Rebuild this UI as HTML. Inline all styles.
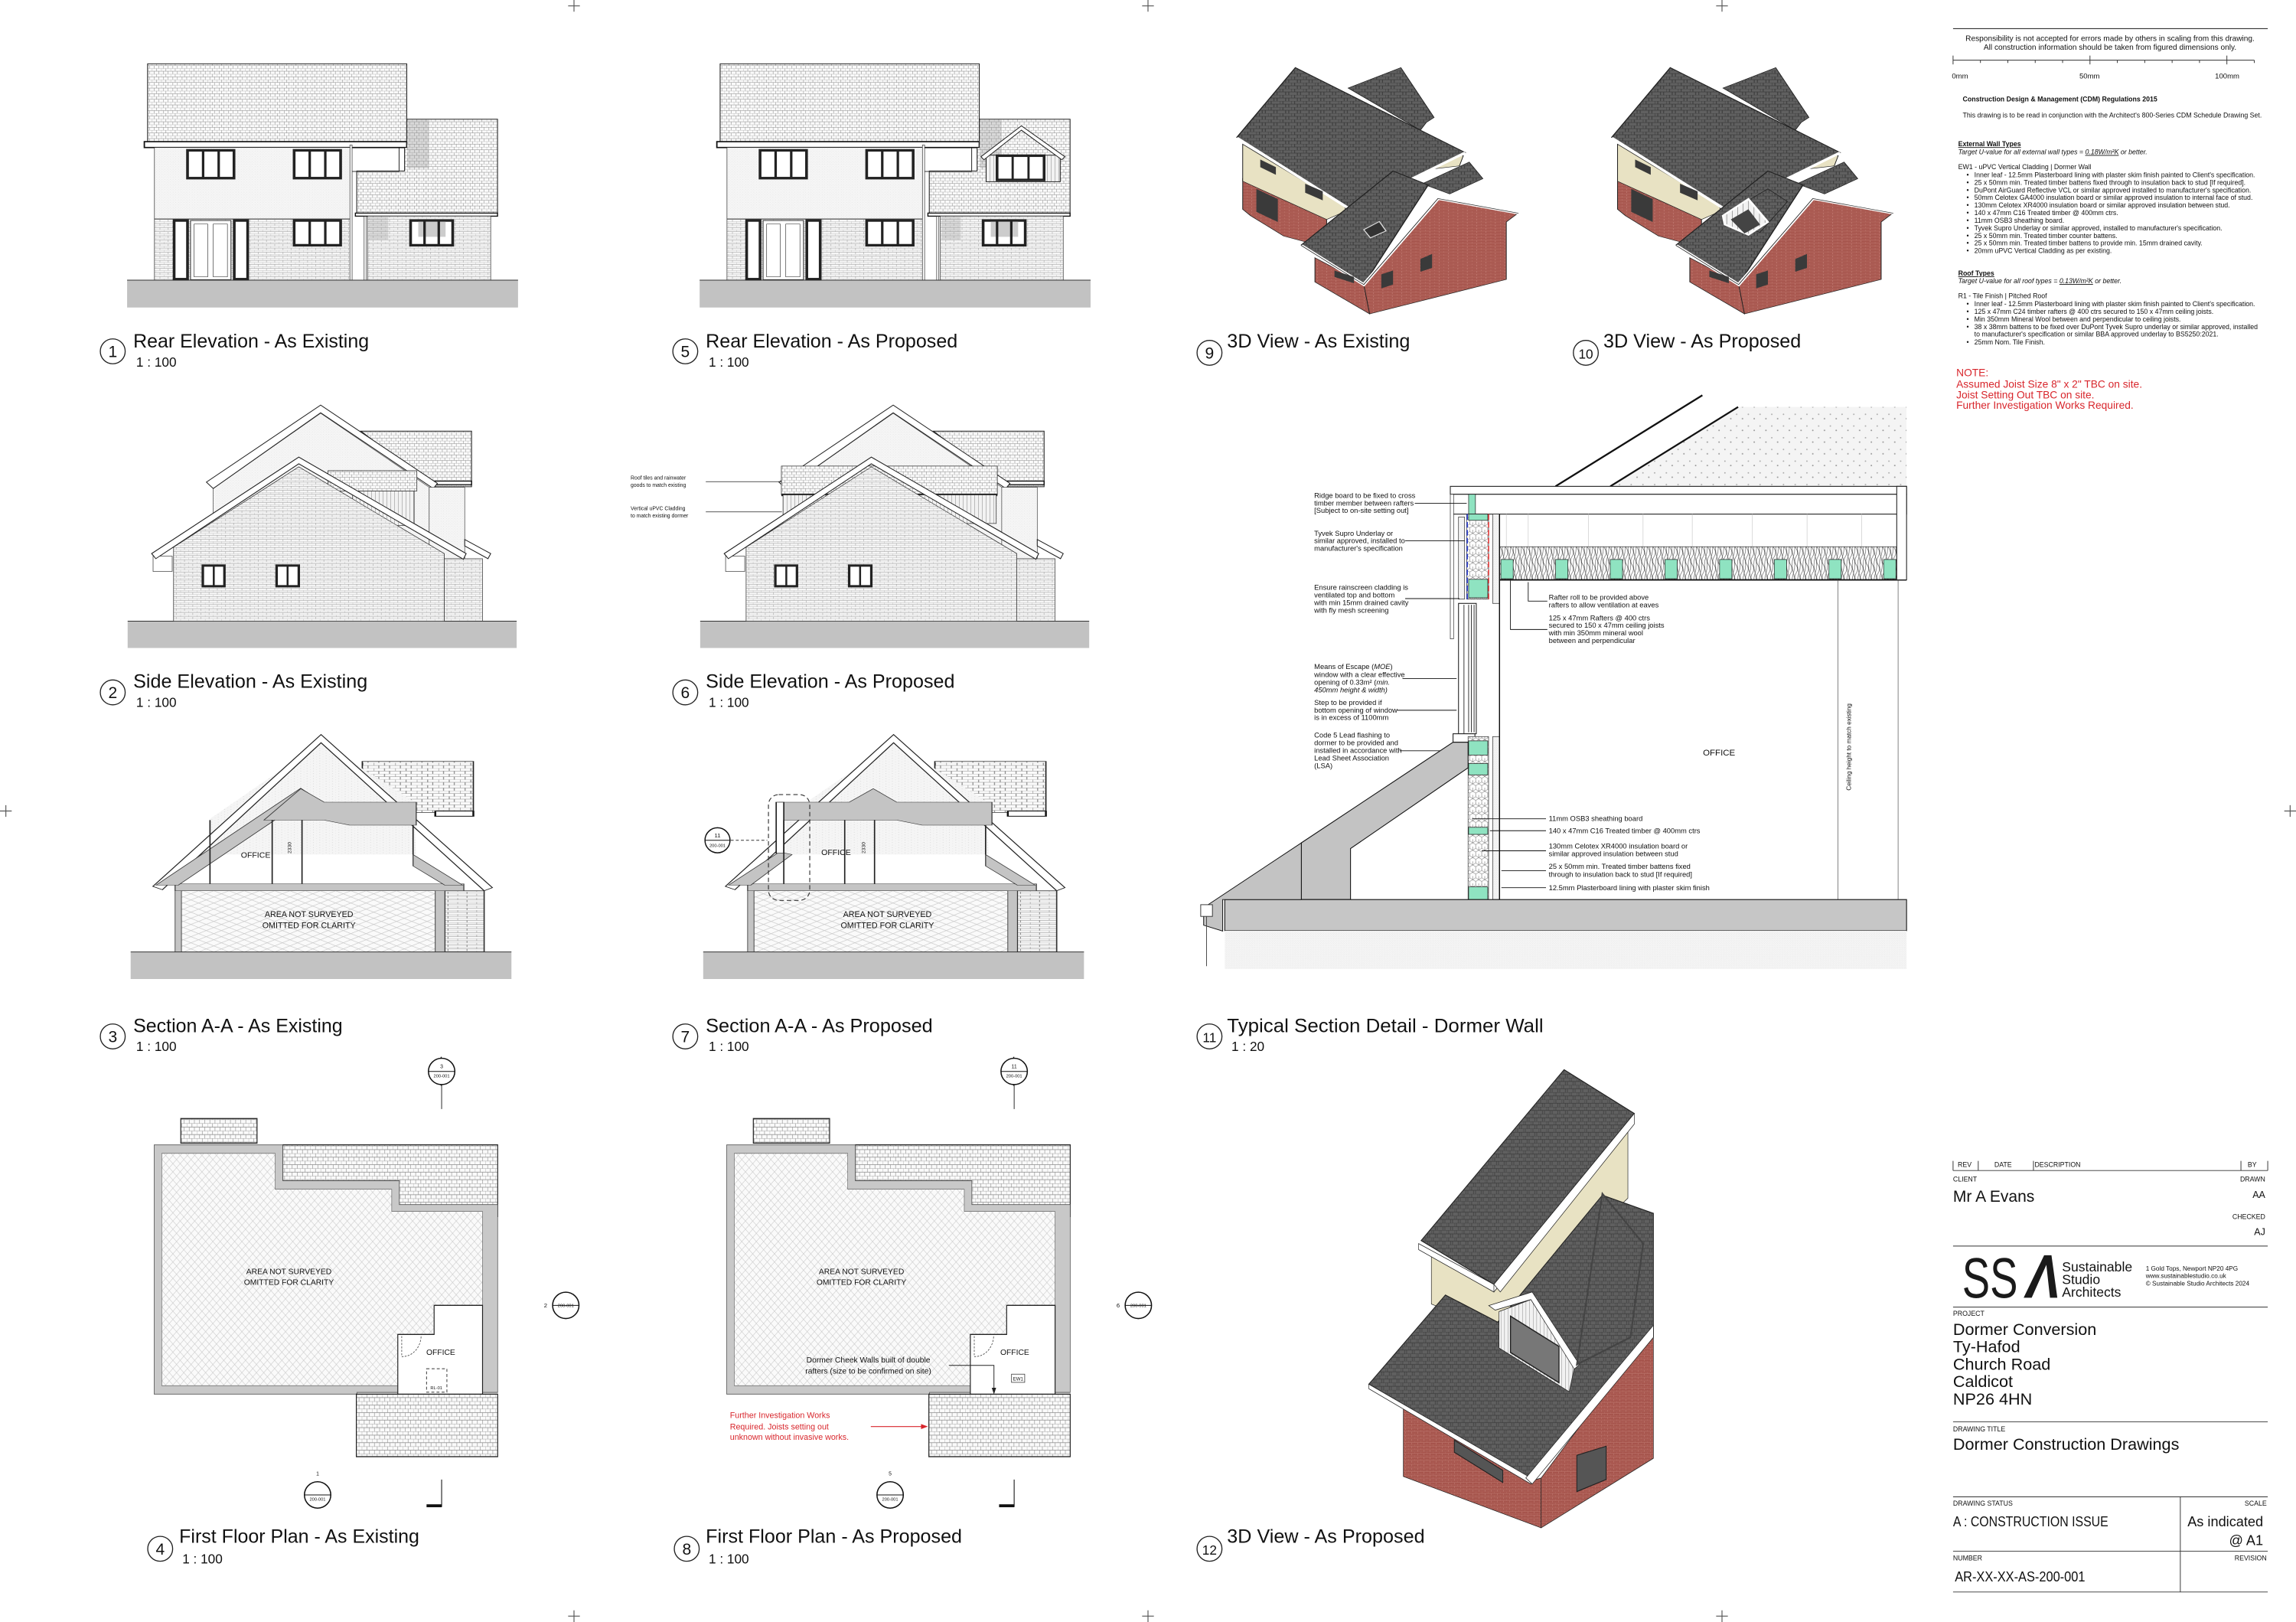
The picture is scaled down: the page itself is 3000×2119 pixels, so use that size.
<!DOCTYPE html>
<html><head><meta charset="utf-8"><style>
html,body{margin:0;padding:0;background:#fff}
svg{display:block}
text{font-family:"Liberation Sans",Arial,sans-serif;fill:#111}
.t{font-size:13px}
.s{font-size:9px}
.n{font-size:4.6px}
.lbl{font-size:4.6px;fill:#333}
</style></head><body>
<svg xmlns="http://www.w3.org/2000/svg" width="3000" height="2119" viewBox="0 0 1568 1108" preserveAspectRatio="none">
<defs>
<pattern id="tile" width="34" height="22" patternUnits="userSpaceOnUse"><rect width="34" height="22" fill="#fafafa"/><path d="M0 0H34M0 11H34M0 0V11M17 0V11M8 11V22M25 11V22" stroke="#8a8a8a" stroke-width="1.5" fill="none"/></pattern>
<pattern id="brick" width="30" height="16" patternUnits="userSpaceOnUse"><rect width="30" height="16" fill="#f6f6f6"/><path d="M0 0H30M0 8H30M0 0V8M15 8V16" stroke="#8a8a8a" stroke-width="1.3" fill="none"/></pattern>
<pattern id="hatch" width="24" height="24" patternUnits="userSpaceOnUse"><rect width="24" height="24" fill="#fafafa"/><path d="M0 0L24 24M24 0L0 24" stroke="#c4c4c4" stroke-width="1.3"/></pattern>
<pattern id="render" width="10" height="10" patternUnits="userSpaceOnUse"><rect width="10" height="10" fill="#f5f5f5"/><circle cx="3" cy="3" r="0.8" fill="#c4c4c4"/><circle cx="8" cy="7" r="0.7" fill="#cccccc"/></pattern>
<pattern id="roof3d" width="30" height="24" patternUnits="userSpaceOnUse"><rect width="30" height="24" fill="#606060"/><path d="M0 0H30M0 12H30M0 0V12M15 12V24M8 0V12M23 12V24" stroke="#3c3c3c" stroke-width="2.2" fill="none"/></pattern>
<pattern id="brick3d" width="24" height="12" patternUnits="userSpaceOnUse"><rect width="24" height="12" fill="#a5534b"/><path d="M0 0H24M0 6H24M0 0V6M12 6V12" stroke="#c8847b" stroke-width="1.2" fill="none"/></pattern>
<pattern id="clad" width="14" height="10" patternUnits="userSpaceOnUse"><rect width="14" height="10" fill="#f2f2f2"/><path d="M0 0V10" stroke="#555" stroke-width="2"/></pattern>
<pattern id="insul" width="22" height="26" patternUnits="userSpaceOnUse"><rect width="22" height="26" fill="#fff"/><path d="M0 6L11 0L22 6M0 6V19L11 26L22 19V6M11 13V26" stroke="#555" stroke-width="1.3" fill="none"/></pattern>
<pattern id="wool" width="20" height="58" patternUnits="userSpaceOnUse"><rect width="20" height="58" fill="#fff"/><path d="M0 0Q10 29 0 58M20 0Q10 29 20 58M10 0Q0 15 10 29Q20 44 10 58" stroke="#444" stroke-width="1.6" fill="none"/></pattern>
<pattern id="stip" width="8" height="8" patternUnits="userSpaceOnUse"><rect width="8" height="8" fill="#f4f4f4"/><circle cx="2" cy="3" r="0.5" fill="#aaa"/><circle cx="6" cy="6" r="0.5" fill="#999"/></pattern>

<g id="rear">
<rect x="120" y="70" width="948" height="305" fill="url(#tile)" stroke="#222" stroke-width="3"/>
<rect x="108" y="375" width="960" height="23" fill="#fff" stroke="#111" stroke-width="5"/>
<polygon points="1068,287 1400,287 1400,655 885,655 885,490 1060,490 1060,398 1068,398" fill="url(#tile)" stroke="#222" stroke-width="3"/>
<rect x="1070" y="290" width="80" height="190" fill="#999" opacity="0.35"/>
<rect x="145" y="398" width="720" height="280" fill="url(#render)" stroke="#333" stroke-width="2"/>
<rect x="145" y="678" width="720" height="240" fill="url(#brick)" stroke="#333" stroke-width="2"/>
<rect x="880" y="655" width="520" height="12" fill="#fff" stroke="#111" stroke-width="4"/>
<rect x="925" y="667" width="450" height="251" fill="url(#brick)" stroke="#333" stroke-width="2"/>
<rect x="930" y="670" width="70" height="90" fill="#999" opacity="0.3"/>
<rect x="860" y="388" width="8" height="530" fill="#fff" stroke="#333" stroke-width="2"/>
<rect x="912" y="668" width="8" height="250" fill="#fff" stroke="#333" stroke-width="2"/>
<path d="M868 492H1040V400" fill="none" stroke="#333" stroke-width="3"/>
<rect x="45" y="918" width="1430" height="107" fill="#c2c2c2"/>
<line x1="45" y1="918" x2="1475" y2="918" stroke="#333" stroke-width="3"/>
<g fill="#fff" stroke="#222" stroke-width="10">
<rect x="266" y="409" width="170" height="109"/><rect x="656" y="409" width="170" height="109"/>
<rect x="656" y="684" width="170" height="97"/><rect x="1082" y="684" width="154" height="97"/>
<rect x="217" y="684" width="49" height="230"/><rect x="437" y="684" width="49" height="230"/>
</g>
<rect x="1110" y="688" width="100" height="60" fill="#aaa" opacity="0.6"/>
<g stroke="#222" stroke-width="9"><path d="M323 409V518M380 409V518M713 409V518M770 409V518M713 684V781M770 684V781M1133 684V781M1185 684V781"/></g>
<rect x="277" y="684" width="148" height="232" fill="#fff" stroke="#333" stroke-width="3"/>
<path d="M290 698H340V905H290ZM360 698H412V905H360Z" fill="none" stroke="#444" stroke-width="2"/>
</g>

<g id="side">
<polygon points="360,385 753,90 1150,380 1150,650 360,650" fill="url(#render)" stroke="#444" stroke-width="2"/>
<polygon points="900,160 1305,160 1305,378 1165,378" fill="url(#tile)" stroke="#222" stroke-width="3"/>
<rect x="1170" y="356" width="135" height="14" fill="#fff" stroke="#111" stroke-width="4"/>
<polygon points="335,360 753,58 1180,365 1165,385 753,88 360,385" fill="#fff" stroke="#222" stroke-width="3"/>
<rect x="1150" y="380" width="130" height="280" fill="url(#render)" stroke="#444" stroke-width="2"/>
<polygon points="1280,585 1375,640 1365,660 1280,610" fill="#fff" stroke="#222" stroke-width="3"/>
<polygon points="135,640 673,262 1285,640 1275,662 673,288 150,660" fill="#fff" stroke="#222" stroke-width="3"/>
<polygon points="215,905 215,615 673,300 1205,640 1205,905" fill="url(#brick)" stroke="#333" stroke-width="2"/>
<rect x="1205" y="660" width="140" height="245" fill="url(#brick)" stroke="#333" stroke-width="2"/>
<rect x="140" y="650" width="70" height="60" fill="#fff" stroke="#333" stroke-width="2"/>
<g fill="#fff" stroke="#222" stroke-width="9"><rect x="322" y="687" width="79" height="81"/><rect x="592" y="687" width="81" height="81"/></g>
<path d="M362 687V768M632 687V768" stroke="#222" stroke-width="7"/>
<rect x="47" y="905" width="1423" height="105" fill="#c2c2c2"/>
<line x1="47" y1="905" x2="1470" y2="905" stroke="#333" stroke-width="3"/>
</g>

<g id="sect">
<rect x="390" y="105" width="175" height="200" fill="url(#tile)" stroke="#222" stroke-width="2"/>
<rect x="505" y="300" width="60" height="20" fill="#fff" stroke="#111" stroke-width="3"/>
<polygon points="150,330 325,30 470,260 475,470 150,470" fill="url(#render)"/>
<polygon points="60,595 325,0 595,600 582,612 325,32 75,608" fill="#fff" stroke="#222" stroke-width="2"/>
<rect x="520" y="612" width="62" height="240" fill="url(#brick)" stroke="#333" stroke-width="2"/>
<rect x="105" y="612" width="400" height="240" fill="url(#hatch)" stroke="#444" stroke-width="1"/>
<rect x="95" y="585" width="455" height="27" fill="#c4c4c4" stroke="#333" stroke-width="1.5"/>
<rect x="95" y="612" width="10" height="240" fill="#c4c4c4" stroke="#333" stroke-width="1"/>
<rect x="505" y="612" width="15" height="240" fill="#c4c4c4" stroke="#333" stroke-width="1"/>
<polygon points="470,470 548,590 520,590 470,515" fill="#c4c4c4" stroke="#333" stroke-width="1.5"/>
<rect x="25" y="852" width="600" height="106" fill="#c2c2c2"/>
<line x1="25" y1="852" x2="625" y2="852" stroke="#333" stroke-width="3"/>
</g>
<g id="sectEx">
<polygon points="65,590 293,210 310,238 100,590" fill="#c4c4c4" stroke="#333" stroke-width="1.5"/>
<polygon points="235,335 293,212 330,265 475,265 475,355 370,355 330,335" fill="#c4c4c4" stroke="#333" stroke-width="1.5"/>
<path d="M150 335V585M248 335V585M295 335V585M470 355V470" stroke="#222" stroke-width="2"/>
</g>
<g id="sectPr">
<polygon points="65,590 145,460 165,470 100,590" fill="#c4c4c4" stroke="#333" stroke-width="1.5"/>
<polygon points="293,212 330,265 480,265 480,355 370,355 330,335 145,335 145,265 255,265" fill="#c4c4c4" stroke="#333" stroke-width="1.5"/>
<rect x="140" y="265" width="12" height="200" fill="#fff" stroke="#222" stroke-width="2"/>
<path d="M152 335V585M248 335V585M295 335V585M470 355V470" stroke="#222" stroke-width="2"/>
</g>

<g id="plan">
<rect x="218" y="228" width="252" height="72" fill="url(#tile)" stroke="#222" stroke-width="3"/>
<polygon points="555,305 1265,305 1265,515 915,515 915,435 555,435" fill="url(#tile)" stroke="#222" stroke-width="3"/>
<polygon points="130,305 555,305 555,410 940,410 940,480 1265,480 1265,1030 800,1030 800,1035 130,1035" fill="#c8c8c8" stroke="#555" stroke-width="2"/>
<polygon points="155,330 530,330 530,435 915,435 915,500 1215,500 1215,1010 155,1010" fill="url(#hatch)" stroke="#555" stroke-width="1.5"/>
<polygon points="935,860 1055,860 1055,775 1215,775 1215,1040 935,1040" fill="#fff" stroke="#222" stroke-width="3"/>
<rect x="798" y="1035" width="467" height="183" fill="url(#tile)" stroke="#222" stroke-width="3"/>
<path d="M948 865V925M948 925A62 62 0 0 0 1012 862" fill="none" stroke="#444" stroke-width="2" stroke-dasharray="6 4"/>
</g>

<g id="h3d">
<polygon points="270,830 400,935 410,1050 270,925" fill="url(#brick3d)" stroke="#222" stroke-width="2"/>
<polygon points="85,520 300,670 300,790 190,745 105,665 85,640" fill="url(#brick3d)" stroke="#222" stroke-width="2"/>
<polygon points="85,385 360,640 300,680 85,530" fill="#e8e2c3" stroke="#222" stroke-width="2"/>
<polygon points="345,625 470,365 650,430 640,470 470,500 360,690" fill="#e8e2c3" stroke="#222" stroke-width="2"/>
<polygon points="355,165 490,85 575,280 555,300 540,330" fill="url(#roof3d)" stroke="#222" stroke-width="2"/>
<polygon points="220,85 70,358 360,640 655,418" fill="url(#roof3d)" stroke="#222" stroke-width="3"/>
<path d="M70 360L360 640M360 640L655 418" stroke="#fff" stroke-width="9"/>
<polygon points="395,935 582,600 790,655 760,690 760,915 410,1050" fill="url(#brick3d)" stroke="#222" stroke-width="2"/>
<polygon points="545,540 665,455 700,520 615,580" fill="url(#roof3d)" stroke="#222" stroke-width="2"/>
<polygon points="235,780 470,490 560,545 395,935" fill="url(#roof3d)" stroke="#222" stroke-width="3"/>
<path d="M235 782L395 935L585 598L790 655" fill="none" stroke="#fff" stroke-width="10"/>
<path d="M235 782L395 935L585 598L790 655" fill="none" stroke="#222" stroke-width="2"/>
<g fill="#3a3a3a"><polygon points="440,895 470,880 470,935 440,950"/><polygon points="540,835 570,815 570,870 540,885"/><polygon points="320,880 370,905 370,930 320,905"/><polygon points="120,560 175,600 175,690 120,650"/><polygon points="130,445 170,475 170,505 130,475"/><polygon points="245,540 290,570 290,605 245,575"/></g>
</g>

<g id="mark">
<circle cx="0" cy="0" r="9" fill="#fff" stroke="#111" stroke-width="0.8"/>
<line x1="-9" y1="0" x2="9" y2="0" stroke="#111" stroke-width="0.5"/>
</g>
</defs>

<g stroke="#555" stroke-width="0.6">
<path d="M392 0V8M784 0V8M1176 0V8M392 1100V1108M784 1100V1108M1176 1100V1108M0 554H8M1560 554H1568M388 4H396M780 4H788M1172 4H1180M388 1104H396M780 1104H788M1172 1104H1180M4 550V558M1564 550V558"/>
</g>

<use href="#rear" transform="translate(78.4,31.4) scale(0.1867,0.1743)"/>
<g transform="translate(469.4,31.4) scale(0.1867,0.1743)">
<use href="#rear"/>
<rect x="1133" y="430" width="110" height="70" fill="url(#tile)"/>
<rect x="1093" y="428" width="271" height="104" fill="url(#clad)" stroke="#222" stroke-width="3"/>
<polygon points="1074,434 1222,313 1381,434 1370,446 1222,330 1085,446" fill="#fff" stroke="#222" stroke-width="3"/>
<rect x="1133" y="430" width="172" height="95" fill="#fff" stroke="#222" stroke-width="10"/>
<path d="M1190 430V525M1248 430V525" stroke="#222" stroke-width="8"/>
</g>

<use href="#side" transform="translate(78.4,266.6) scale(0.1867,0.1743)"/>
<g transform="translate(78.4,266.6) scale(0.1867,0.1743)">
<rect x="780" y="315" width="325" height="80" fill="url(#tile)" stroke="#222" stroke-width="2"/>
<rect x="870" y="395" width="225" height="135" fill="url(#clad)" stroke="#222" stroke-width="2"/>
<polygon points="215,615 673,300 1205,640 1205,905 215,905" fill="url(#brick)" stroke="#333" stroke-width="2"/>
<polygon points="135,640 673,262 1285,640 1275,662 673,288 150,660" fill="#fff" stroke="#222" stroke-width="3"/>
<g fill="#fff" stroke="#222" stroke-width="9"><rect x="322" y="687" width="79" height="81"/><rect x="592" y="687" width="81" height="81"/></g>
<path d="M362 687V768M632 687V768" stroke="#222" stroke-width="7"/>
</g>
<use href="#side" transform="translate(469.4,266.6) scale(0.1867,0.1743)"/>
<g transform="translate(469.4,266.6) scale(0.1867,0.1743)">
<rect x="344" y="297" width="790" height="113" fill="url(#tile)" stroke="#222" stroke-width="2"/>
<rect x="344" y="405" width="790" height="10" fill="#222"/>
<rect x="350" y="410" width="780" height="112" fill="url(#clad)" stroke="#222" stroke-width="2"/>
<polygon points="215,615 673,300 1205,640 1205,905 215,905" fill="url(#brick)" stroke="#333" stroke-width="2"/>
<polygon points="135,640 673,262 1285,640 1275,662 673,288 150,660" fill="#fff" stroke="#222" stroke-width="3"/>
<g fill="#fff" stroke="#222" stroke-width="9"><rect x="322" y="687" width="79" height="81"/><rect x="592" y="687" width="81" height="81"/></g>
<path d="M362 687V768M632 687V768" stroke="#222" stroke-width="7"/>
</g>
<text x="430.7" y="327.6" style="font-size:3.6px">Roof tiles and rainwater</text>
<text x="430.7" y="332.6" style="font-size:3.6px">goods to match existing</text>
<text x="430.7" y="348.4" style="font-size:3.6px">Vertical uPVC Cladding</text>
<text x="430.7" y="353.4" style="font-size:3.6px">to match existing dormer</text>
<path d="M482 329H534M482 349.7H534" stroke="#222" stroke-width="0.4"/>

<use href="#sect" transform="translate(78.4,501.8) scale(0.4334,0.1743)"/>
<use href="#sectEx" transform="translate(78.4,501.8) scale(0.4334,0.1743)"/>
<use href="#sect" transform="translate(469.4,501.8) scale(0.4334,0.1743)"/>
<use href="#sectPr" transform="translate(469.4,501.8) scale(0.4334,0.1743)"/>
<text x="174.6" y="586" style="font-size:5.5px" text-anchor="middle">OFFICE</text>
<text x="571" y="584" style="font-size:5.5px" text-anchor="middle">OFFICE</text>
<text transform="translate(199,583) rotate(-90)" style="font-size:3.5px">2330</text>
<text transform="translate(591,583) rotate(-90)" style="font-size:3.5px">2330</text>
<text x="211" y="626.5" style="font-size:5.6px" text-anchor="middle">AREA NOT SURVEYED</text>
<text x="211" y="634" style="font-size:5.6px" text-anchor="middle">OMITTED FOR CLARITY</text>
<text x="606" y="626.5" style="font-size:5.6px" text-anchor="middle">AREA NOT SURVEYED</text>
<text x="606" y="634" style="font-size:5.6px" text-anchor="middle">OMITTED FOR CLARITY</text>
<rect x="524.8" y="542.8" width="28.2" height="72.3" rx="7" fill="none" stroke="#333" stroke-width="0.6" stroke-dasharray="3 2"/>
<use href="#mark" transform="translate(490,574) scale(0.95)"/>
<text x="490" y="572" style="font-size:4px" text-anchor="middle">11</text>
<text x="490" y="578.5" style="font-size:3px" text-anchor="middle">200-001</text>
<path d="M499 574H524" stroke="#333" stroke-width="0.5" stroke-dasharray="2 1.5"/>

<use href="#plan" transform="translate(78.4,710.9) scale(0.2067,0.2333)"/>
<use href="#plan" transform="translate(469.4,710.9) scale(0.2067,0.2333)"/>
<g style="font-size:5.4px">
<text x="197.3" y="870.3" text-anchor="middle">AREA NOT SURVEYED</text>
<text x="197.3" y="877.7" text-anchor="middle">OMITTED FOR CLARITY</text>
<text x="588.3" y="870.3" text-anchor="middle">AREA NOT SURVEYED</text>
<text x="588.3" y="877.7" text-anchor="middle">OMITTED FOR CLARITY</text>
<text x="301" y="925.6" text-anchor="middle">OFFICE</text>
<text x="693" y="925.6" text-anchor="middle">OFFICE</text>
</g>
<rect x="291.3" y="935" width="13.9" height="16" fill="none" stroke="#333" stroke-width="0.5" stroke-dasharray="2 1.5"/>
<text x="298" y="949" style="font-size:3px" text-anchor="middle">RL-01</text>
<rect x="690.8" y="938.7" width="9" height="5.6" fill="#fff" stroke="#333" stroke-width="0.4"/>
<text x="695.3" y="943" style="font-size:3.2px" text-anchor="middle">EW1</text>
<text x="593" y="930.8" style="font-size:5.4px" text-anchor="middle">Dormer Cheek Walls built of double</text>
<text x="593" y="938.2" style="font-size:5.4px" text-anchor="middle">rafters (size to be confirmed on site)</text>
<path d="M648 932.7H678.8V951" fill="none" stroke="#222" stroke-width="0.5"/>
<polygon points="677.3,948 680.3,948 678.8,952.5" fill="#222"/>
<g style="font-size:5.6px">
<text x="498.5" y="968.6" style="fill:#d8262c">Further Investigation Works</text>
<text x="498.5" y="976.4" style="fill:#d8262c">Required. Joists setting out</text>
<text x="498.5" y="983.6" style="fill:#d8262c">unknown without invasive works.</text>
</g>
<path d="M594.7 974.5H631" stroke="#d8262c" stroke-width="0.6"/>
<polygon points="629,972.8 633.7,974.5 629,976.2" fill="#d8262c"/>
<g>
<polygon points="292.6,731.9 301.6,721.6 301.6,742.2" fill="#111"/><use href="#mark" transform="translate(301.6,731.9)"/>
<text x="301.6" y="729.6" style="font-size:3.6px" text-anchor="middle">3</text><text x="301.6" y="736" style="font-size:3px" text-anchor="middle">200-001</text>
<path d="M301.6 741V757.6" stroke="#222" stroke-width="0.5"/>
<polygon points="377.4,891.7 386.4,886 386.4,897.4" fill="#111"/><use href="#mark" transform="translate(386.4,891.7)"/>
<text x="371.5" y="893.2" style="font-size:4px">2</text><text x="386.4" y="892.8" style="font-size:3px" text-anchor="middle">200-001</text>
<polygon points="216.9,1012 211,1021 222.8,1021" fill="#111"/><use href="#mark" transform="translate(216.9,1021.2)"/>
<text x="216.9" y="1008" style="font-size:3.6px" text-anchor="middle">1</text><text x="216.9" y="1025" style="font-size:3px" text-anchor="middle">200-001</text>
<path d="M301.6 1010.7V1029.4" stroke="#222" stroke-width="0.6"/><rect x="291.3" y="1027.6" width="10.3" height="2" fill="#111"/>
<polygon points="683.6,731.9 692.6,721.6 692.6,742.2" fill="#111"/><use href="#mark" transform="translate(692.6,731.9)"/>
<text x="692.6" y="729.6" style="font-size:3.6px" text-anchor="middle">11</text><text x="692.6" y="736" style="font-size:3px" text-anchor="middle">200-001</text>
<path d="M692.6 741V757.6" stroke="#222" stroke-width="0.5"/>
<polygon points="768.4,891.7 777.4,886 777.4,897.4" fill="#111"/><use href="#mark" transform="translate(777.4,891.7)"/>
<text x="762.5" y="893.2" style="font-size:4px">6</text><text x="777.4" y="892.8" style="font-size:3px" text-anchor="middle">200-001</text>
<polygon points="607.9,1012 602,1021 613.8,1021" fill="#111"/><use href="#mark" transform="translate(607.9,1021.2)"/>
<text x="607.9" y="1008" style="font-size:3.6px" text-anchor="middle">5</text><text x="607.9" y="1025" style="font-size:3px" text-anchor="middle">200-001</text>
<path d="M692.6 1010.7V1029.4" stroke="#222" stroke-width="0.6"/><rect x="682.3" y="1027.6" width="10.3" height="2" fill="#111"/>
</g>

<use href="#h3d" transform="translate(826,31.4) scale(0.2667,0.1743)"/>
<g transform="translate(826,31.4) scale(0.2667,0.1743)">
<polygon points="395,720 435,688 452,725 412,752" fill="#333" stroke="#ddd" stroke-width="3"/>
</g>
<g transform="translate(1082,31.4) scale(0.2667,0.1743)">
<use href="#h3d"/>
<polygon points="355,665 470,560 520,610 450,730 385,700" fill="url(#roof3d)" stroke="#222" stroke-width="2"/>
<polygon points="355,665 420,600 470,690 420,740 360,700" fill="url(#clad)" stroke="#fff" stroke-width="6"/>
<polygon points="375,680 420,640 450,700 410,735" fill="#444"/>
</g>

<polygon points="1099.7,332.2 1187,278 1302,278 1302,332.2" fill="url(#stip)"/>
<path d="M1062.3 332.2L1162.6 270M1099.7 332.2L1187 278" stroke="#111" stroke-width="1.2"/>
<g transform="translate(888.7,324.1) scale(0.1867,0.1936)">
<rect x="545" y="42" width="1669" height="28" fill="#fff" stroke="#222" stroke-width="3"/>
<rect x="555" y="70" width="1659" height="70" fill="#fff" stroke="#222" stroke-width="3"/>
<path d="M750 140V255M830 140V255M1050 140V255M1250 140V255M1430 140V255M1650 140V255M1850 140V255M2050 140V255" stroke="#ccc" stroke-width="2"/>
<rect x="725" y="255" width="1453" height="117" fill="url(#wool)" stroke="#333" stroke-width="2"/>
<g fill="#8fe3c1" stroke="#222" stroke-width="2"><rect x="730" y="300" width="45" height="68"/><rect x="930" y="300" width="45" height="68"/><rect x="1130" y="300" width="45" height="68"/><rect x="1330" y="300" width="45" height="68"/><rect x="1530" y="300" width="45" height="68"/><rect x="1730" y="300" width="45" height="68"/><rect x="1930" y="300" width="45" height="68"/><rect x="2130" y="300" width="45" height="68"/></g>
<path d="M725 372H2214" stroke="#111" stroke-width="5"/>
<rect x="2178" y="42" width="36" height="330" fill="#fff" stroke="#222" stroke-width="3"/>
<path d="M1963 372V1500M2183 372V1500" stroke="#555" stroke-width="2"/>
<rect x="545" y="70" width="12" height="510" fill="#fff" stroke="#333" stroke-width="2"/>
<rect x="612" y="70" width="25" height="70" fill="#8fe3c1" stroke="#222" stroke-width="2"/>
<rect x="575" y="150" width="22" height="290" fill="url(#stip)" stroke="#333" stroke-width="2"/>
<rect x="605" y="140" width="80" height="300" fill="url(#insul)" stroke="#333" stroke-width="2"/>
<path d="M685 140V440" stroke="#e02020" stroke-width="4" stroke-dasharray="20 8"/>
<path d="M607 140V440" stroke="#1a2fd0" stroke-width="4" stroke-dasharray="20 8"/>
<g fill="#8fe3c1" stroke="#222" stroke-width="2"><rect x="612" y="140" width="70" height="22"/><rect x="612" y="370" width="70" height="65"/></g>
<rect x="700" y="140" width="25" height="315" fill="url(#stip)" stroke="#333" stroke-width="2"/>
<rect x="575" y="455" width="65" height="460" fill="#fff" stroke="#222" stroke-width="3"/>
<path d="M595 460V915M612 460V910M622 460V910M632 460V910" stroke="#222" stroke-width="2.5"/>
<rect x="555" y="915" width="80" height="30" fill="#fff" stroke="#222" stroke-width="3"/>
<rect x="610" y="925" width="75" height="575" fill="url(#insul)" stroke="#333" stroke-width="2"/>
<g fill="#8fe3c1" stroke="#222" stroke-width="2"><rect x="612" y="940" width="70" height="50"/><rect x="612" y="1020" width="70" height="40"/><rect x="612" y="1245" width="70" height="25"/><rect x="612" y="1455" width="70" height="45"/></g>
<rect x="700" y="925" width="25" height="575" fill="url(#stip)" stroke="#333" stroke-width="2"/>
<path d="M725 140V1500" stroke="#111" stroke-width="4"/>
<polygon points="0,1300 555,945 610,945 610,1035 180,1320 180,1500 0,1500" fill="#c3c3c3" stroke="#111" stroke-width="3"/>
<rect x="-280" y="1500" width="2494" height="110" fill="#c6c6c6" stroke="#111" stroke-width="3"/>
<rect x="-280" y="1610" width="2494" height="135" fill="url(#stip)"/>
<g stroke="#111" stroke-width="2.5" fill="none">
<path d="M415 102H605M380 234H598M380 438H578M370 720H568M350 832H568M360 975H508M900 447H830V380M900 547H765V375"/>
<path d="M895 1215H625M895 1257H690M895 1328H660M895 1398H732M895 1458H732"/>
</g>
</g>
<polygon points="822,620 888.7,575.8 888.7,614.5 835,614.5 835,636 822,632" fill="#c3c3c3" stroke="#111" stroke-width="0.5"/>
<rect x="820" y="618" width="8" height="8" fill="#fff" stroke="#333" stroke-width="0.5"/>
<path d="M824 626V660" stroke="#444" stroke-width="0.5"/>
<g style="font-size:4.9px">
<text x="897.5" y="340.2">Ridge board to be fixed to cross</text><text x="897.5" y="345.4">timber member between rafters</text><text x="897.5" y="350.4">[Subject to on-site setting out]</text>
<text x="897.5" y="365.9">Tyvek Supro Underlay or</text><text x="897.5" y="371.1">similar approved, installed to</text><text x="897.5" y="376.1">manufacturer's specification</text>
<text x="897.5" y="402.9">Ensure rainscreen cladding is</text><text x="897.5" y="408.1">ventilated top and bottom</text><text x="897.5" y="413.3">with min 15mm drained cavity</text><text x="897.5" y="418.7">with fly mesh screening</text>
<text x="897.5" y="457.1">Means of Escape (<tspan font-style="italic">MOE</tspan>)</text><text x="897.5" y="462.4">window with a clear effective</text><text x="897.5" y="467.7">opening of 0.33m² (<tspan font-style="italic">min.</tspan></text><text x="897.5" y="472.9" font-style="italic">450mm height &amp; width)</text>
<text x="897.5" y="481.6">Step to be provided if</text><text x="897.5" y="486.8">bottom opening of window</text><text x="897.5" y="491.8">is in excess of 1100mm</text>
<text x="897.5" y="503.8">Code 5 Lead flashing to</text><text x="897.5" y="509">dormer to be provided and</text><text x="897.5" y="514.3">installed in accordance with</text><text x="897.5" y="519.5">Lead Sheet Association</text><text x="897.5" y="524.7">(LSA)</text>
<text x="1057.7" y="409.6">Rafter roll to be provided above</text><text x="1057.7" y="414.8">rafters to allow ventilation at eaves</text>
<text x="1057.7" y="423.9">125 x 47mm Rafters @ 400 ctrs</text><text x="1057.7" y="428.9">secured to 150 x 47mm ceiling joists</text><text x="1057.7" y="434.1">with min 350mm mineral wool</text><text x="1057.7" y="439.3">between and perpendicular</text>
<text x="1057.7" y="560.7">11mm OSB3 sheathing board</text>
<text x="1057.7" y="569.2">140 x 47mm C16 Treated timber @ 400mm ctrs</text>
<text x="1057.7" y="579.5">130mm Celotex XR4000 insulation board or</text><text x="1057.7" y="584.9">similar approved insulation between stud</text>
<text x="1057.7" y="593.6">25 x 50mm min. Treated timber battens fixed</text><text x="1057.7" y="599">through to insulation back to stud [If required]</text>
<text x="1057.7" y="608.1">12.5mm Plasterboard lining with plaster skim finish</text>
</g>
<text x="1174" y="516" style="font-size:6px" text-anchor="middle">OFFICE</text>
<text transform="translate(1264,540) rotate(-90)" style="font-size:4.3px">Ceiling height to match existing</text>

<g transform="translate(920,721.4) scale(0.1743,0.2066)">
<polygon points="220,1165 720,1405 760,1395 760,1560 220,1390" fill="url(#brick3d)" stroke="#222" stroke-width="2"/>
<polygon points="760,1395 1200,900 1200,1330 760,1560" fill="url(#brick3d)" stroke="#222" stroke-width="2"/>
<polygon points="900,1320 1015,1290 1015,1400 900,1440" fill="#555" stroke="#222" stroke-width="3"/>
<polygon points="420,1270 610,1370 610,1410 420,1310" fill="#555" stroke="#222" stroke-width="3"/>
<polygon points="330,660 575,780 1100,250 1100,470 570,900 330,820" fill="#e8e2c3" stroke="#222" stroke-width="2"/>
<polygon points="290,610 850,45 1125,190 575,755" fill="url(#roof3d)" stroke="#222" stroke-width="3"/>
<polygon points="575,755 1125,190 1125,225 600,780" fill="#fff" stroke="#222" stroke-width="2"/>
<polygon points="280,620 575,755 575,780 280,640" fill="#fff" stroke="#222" stroke-width="2"/>
<polygon points="85,1085 385,790 590,880 1000,460 1200,520 1200,930 720,1400" fill="url(#roof3d)" stroke="#222" stroke-width="3"/>
<polygon points="85,1085 720,1395 720,1415 85,1100" fill="#fff" stroke="#222" stroke-width="2"/>
<polygon points="700,1395 1200,890 1200,930 725,1415" fill="#fff" stroke="#222" stroke-width="2"/>
<polygon points="595,845 720,805 890,1030 870,1110 595,965" fill="url(#clad)" stroke="#222" stroke-width="2"/>
<polygon points="640,860 830,960 830,1080 640,980" fill="#777" stroke="#222" stroke-width="4"/>
<polygon points="555,825 725,780 910,1020 890,1035 720,805 580,840" fill="#fff" stroke="#222" stroke-width="2"/>
<polygon points="1000,455 1160,620 1110,930 900,1020" fill="none" stroke="#444" stroke-width="6"/>
</g>

<g fill="none" stroke="#222" stroke-width="0.7">
<circle cx="77" cy="240" r="8.5"/><circle cx="468" cy="240" r="8.5"/><circle cx="826" cy="241" r="8.5"/><circle cx="1083" cy="241" r="8.5"/>
<circle cx="77" cy="473" r="8.5"/><circle cx="468" cy="473" r="8.5"/>
<circle cx="77" cy="708" r="8.5"/><circle cx="468" cy="708" r="8.5"/><circle cx="826" cy="708" r="8.5"/>
<circle cx="109.4" cy="1058" r="8.5"/><circle cx="469" cy="1058" r="8.5"/><circle cx="826" cy="1058" r="8.5"/>
</g>
<g style="font-size:11px" text-anchor="middle">
<text x="77" y="244">1</text><text x="468" y="244">5</text><text x="826" y="245">9</text><text x="1083" y="245" style="font-size:9px">10</text>
<text x="77" y="477">2</text><text x="468" y="477">6</text>
<text x="77" y="712">3</text><text x="468" y="712">7</text><text x="826" y="712" style="font-size:9px">11</text>
<text x="109.4" y="1062">4</text><text x="469" y="1062">8</text><text x="826" y="1062" style="font-size:9px">12</text>
</g>
<g class="t">
<text x="91" y="237.5" textLength="161" lengthAdjust="spacingAndGlyphs">Rear Elevation - As Existing</text>
<text x="482" y="237.5" textLength="172" lengthAdjust="spacingAndGlyphs">Rear Elevation - As Proposed</text>
<text x="838" y="237.5" textLength="125" lengthAdjust="spacingAndGlyphs">3D View - As Existing</text>
<text x="1095" y="237.5" textLength="135" lengthAdjust="spacingAndGlyphs">3D View - As Proposed</text>
<text x="91" y="469.7" textLength="160" lengthAdjust="spacingAndGlyphs">Side Elevation - As Existing</text>
<text x="482" y="469.7" textLength="170" lengthAdjust="spacingAndGlyphs">Side Elevation - As Proposed</text>
<text x="91" y="705" textLength="143" lengthAdjust="spacingAndGlyphs">Section A-A - As Existing</text>
<text x="482" y="705" textLength="155" lengthAdjust="spacingAndGlyphs">Section A-A - As Proposed</text>
<text x="838" y="705" textLength="216" lengthAdjust="spacingAndGlyphs">Typical Section Detail - Dormer Wall</text>
<text x="122.4" y="1054" textLength="164" lengthAdjust="spacingAndGlyphs">First Floor Plan - As Existing</text>
<text x="482" y="1054" textLength="175" lengthAdjust="spacingAndGlyphs">First Floor Plan - As Proposed</text>
<text x="838" y="1054" textLength="135" lengthAdjust="spacingAndGlyphs">3D View - As Proposed</text>
</g>
<g class="s">
<text x="93" y="250.5">1 : 100</text><text x="484" y="250.5">1 : 100</text>
<text x="93" y="483">1 : 100</text><text x="484" y="483">1 : 100</text>
<text x="93" y="718">1 : 100</text><text x="484" y="718">1 : 100</text><text x="841" y="718">1 : 20</text>
<text x="124.5" y="1068">1 : 100</text><text x="484" y="1068">1 : 100</text>
</g>

<path d="M1333.8 19.6H1548.7" stroke="#333" stroke-width="0.6"/>
<text x="1441" y="28" style="font-size:5.3px" text-anchor="middle">Responsibility is not accepted for errors made by others in scaling from this drawing.</text>
<text x="1441" y="34" style="font-size:5.3px" text-anchor="middle">All construction information should be taken from figured dimensions only.</text>
<path d="M1333.8 41.1H1539.5M1333.8 38V44M1352.5 41.1V43M1371.2 41.1V43M1389.9 41.1V43M1408.6 41.1V43M1427.3 38V44M1446 41.1V43M1464.7 41.1V43M1483.4 41.1V43M1502.1 41.1V43M1520.8 38V44M1539.5 41.1V43" stroke="#333" stroke-width="0.5"/>
<text x="1333" y="53.5" style="font-size:5px">0mm</text><text x="1427" y="53.5" style="font-size:5px" text-anchor="middle">50mm</text><text x="1521" y="53.5" style="font-size:5px" text-anchor="middle">100mm</text>
<g class="n">
<text x="1340.4" y="69.4" font-weight="bold">Construction Design &amp; Management (CDM) Regulations 2015</text>
<text x="1340.4" y="80.2">This drawing is to be read in conjunction with the Architect's 800-Series CDM Schedule Drawing Set.</text>
<text x="1337.3" y="100" font-weight="bold" text-decoration="underline">External Wall Types</text>
<text x="1337.3" y="105.4" font-style="italic">Target U-value for all external wall types = <tspan text-decoration="underline">0.18W/m²K</tspan> or better.</text>
<text x="1337.3" y="115.5">EW1 - uPVC Vertical Cladding | Dormer Wall</text>
<text x="1343" y="121.1">•</text><text x="1348.3" y="121.1">Inner leaf - 12.5mm Plasterboard lining with plaster skim finish painted to Client's specification.</text>
<text x="1343" y="126.3">•</text><text x="1348.3" y="126.3">25 x 50mm min. Treated timber battens fixed through to insulation back to stud [If required].</text>
<text x="1343" y="131.4">•</text><text x="1348.3" y="131.4">DuPont AirGuard Reflective VCL or similar approved installed to manufacturer's specification.</text>
<text x="1343" y="136.6">•</text><text x="1348.3" y="136.6">50mm Celotex GA4000 insulation board or similar approved insulation to internal face of stud.</text>
<text x="1343" y="141.8">•</text><text x="1348.3" y="141.8">130mm Celotex XR4000 insulation board or similar approved insulation between stud.</text>
<text x="1343" y="147">•</text><text x="1348.3" y="147">140 x 47mm C16 Treated timber @ 400mm ctrs.</text>
<text x="1343" y="152.2">•</text><text x="1348.3" y="152.2">11mm OSB3 sheathing board.</text>
<text x="1343" y="157.3">•</text><text x="1348.3" y="157.3">Tyvek Supro Underlay or similar approved, installed to manufacturer's specification.</text>
<text x="1343" y="162.5">•</text><text x="1348.3" y="162.5">25 x 50mm min. Treated timber counter battens.</text>
<text x="1343" y="167.7">•</text><text x="1348.3" y="167.7">25 x 50mm min. Treated timber battens to provide min. 15mm drained cavity.</text>
<text x="1343" y="172.9">•</text><text x="1348.3" y="172.9">20mm uPVC Vertical Cladding as per existing.</text>
<text x="1337.3" y="188.3" font-weight="bold" text-decoration="underline">Roof Types</text>
<text x="1337.3" y="193.5" font-style="italic">Target U-value for all roof types = <tspan text-decoration="underline">0.13W/m²K</tspan> or better.</text>
<text x="1337.3" y="203.8">R1 - Tile Finish | Pitched Roof</text>
<text x="1343" y="209.2">•</text><text x="1348.3" y="209.2">Inner leaf - 12.5mm Plasterboard lining with plaster skim finish painted to Client's specification.</text>
<text x="1343" y="214.4">•</text><text x="1348.3" y="214.4">125 x 47mm C24 timber rafters @ 400 ctrs secured to 150 x 47mm ceiling joists.</text>
<text x="1343" y="219.7">•</text><text x="1348.3" y="219.7">Min 350mm Mineral Wool between and perpendicular to ceiling joists.</text>
<text x="1343" y="224.9">•</text><text x="1348.3" y="224.9">38 x 38mm battens to be fixed over DuPont Tyvek Supro underlay or similar approved, installed</text>
<text x="1348.3" y="229.9">to manufacturer's specification or similar BBA approved underlay to BS5250:2021.</text>
<text x="1343" y="235.2">•</text><text x="1348.3" y="235.2">25mm Nom. Tile Finish.</text>
</g>
<g style="font-size:7.2px">
<text x="1336" y="257" style="fill:#d8262c">NOTE:</text>
<text x="1336" y="264.8" style="fill:#d8262c">Assumed Joist Size 8" x 2"  TBC on site.</text>
<text x="1336" y="272.1" style="fill:#d8262c">Joist Setting Out TBC on site.</text>
<text x="1336" y="279.2" style="fill:#d8262c">Further Investigation Works Required.</text>
</g>

<g stroke="#333" stroke-width="0.5" fill="none">
<path d="M1333.8 799.6H1548.7M1333.8 793V799.6M1351 793V799.6M1388.7 793V799.6M1530.4 793V799.6M1548.7 793V799.6"/>
<path d="M1333.8 851.2H1548.7M1333.8 892.9H1548.7M1333.8 971.3H1548.7M1333.8 1022.5H1548.7M1333.8 1059.6H1548.7M1333.8 1087.5H1548.7M1489 1022.5V1087.5"/>
</g>
<g class="lbl">
<text x="1337" y="797.2">REV</text><text x="1362" y="797.2">DATE</text><text x="1389.5" y="797.2">DESCRIPTION</text><text x="1535" y="797.2">BY</text>
<text x="1333.8" y="807">CLIENT</text><text x="1547" y="807" text-anchor="end">DRAWN</text>
<text x="1547" y="832.8" text-anchor="end">CHECKED</text>
<text x="1333.8" y="898.8">PROJECT</text>
<text x="1333.8" y="977.7">DRAWING TITLE</text>
<text x="1333.8" y="1028.6">DRAWING STATUS</text><text x="1548" y="1028.6" text-anchor="end">SCALE</text>
<text x="1333.8" y="1065.8">NUMBER</text><text x="1548" y="1065.8" text-anchor="end">REVISION</text>
</g>
<text x="1333.8" y="821" style="font-size:11px">Mr A Evans</text>
<text x="1547" y="818.2" style="font-size:6.5px" text-anchor="end">AA</text>
<text x="1547" y="843.8" style="font-size:6.5px" text-anchor="end">AJ</text>
<text x="1340" y="886.5" style="font-size:39px;fill:#1a1a1a" textLength="38" lengthAdjust="spacingAndGlyphs">SS</text>
<polygon points="1382,886.5 1396,857.5 1401,857.5 1405,886.5 1400,886.5 1397.5,864 1387.5,886.5" fill="#1a1a1a"/>
<text x="1408.2" y="868.4" style="font-size:9.2px">Sustainable</text>
<text x="1408.2" y="877.1" style="font-size:9.2px">Studio</text>
<text x="1408.2" y="885.8" style="font-size:9.2px">Architects</text>
<text x="1465.4" y="867.9" style="font-size:4.3px">1 Gold Tops, Newport NP20 4PG</text>
<text x="1465.4" y="872.9" style="font-size:4.3px">www.sustainablestudio.co.uk</text>
<text x="1465.4" y="878.1" style="font-size:4.3px">© Sustainable Studio Architects 2024</text>
<g style="font-size:11.3px">
<text x="1333.8" y="911.9">Dormer Conversion</text>
<text x="1333.8" y="923.7">Ty-Hafod</text>
<text x="1333.8" y="935.7">Church Road</text>
<text x="1333.8" y="947.4">Caldicot</text>
<text x="1333.8" y="959.4">NP26 4HN</text>
<text x="1333.8" y="990.4">Dormer Construction Drawings</text>
</g>
<text x="1333.8" y="1042.7" style="font-size:9.5px" textLength="106" lengthAdjust="spacingAndGlyphs">A : CONSTRUCTION ISSUE</text>
<text x="1545.6" y="1042.7" style="font-size:9.5px" text-anchor="end">As indicated</text>
<text x="1545.6" y="1055.5" style="font-size:9.5px" text-anchor="end">@ A1</text>
<text x="1335" y="1080.3" style="font-size:9.5px" textLength="89" lengthAdjust="spacingAndGlyphs">AR-XX-XX-AS-200-001</text>
</svg>
</body></html>
